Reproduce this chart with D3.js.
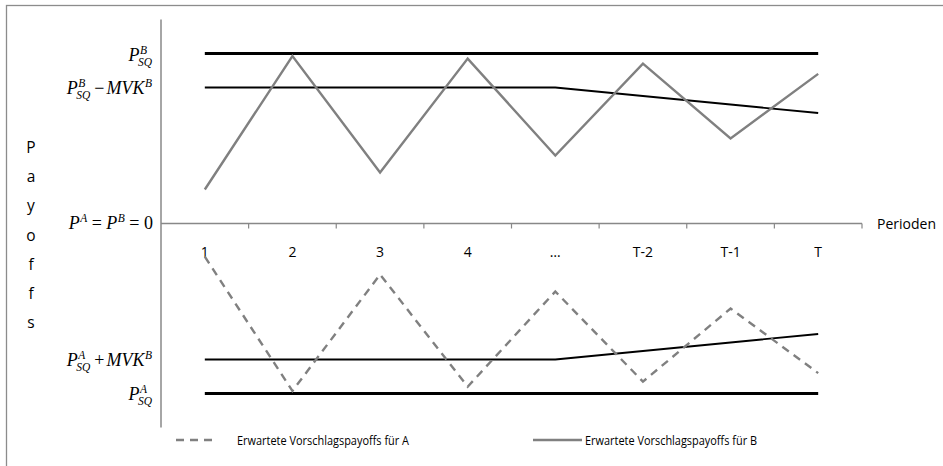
<!DOCTYPE html>
<html>
<head>
<meta charset="utf-8">
<script src="https://cdn.jsdelivr.net/npm/d3@7"></script>
<style>
  html, body { margin: 0; padding: 0; background: #fff; }
  svg { display: block; }
  text { white-space: pre; }
  .sans { font-family: "Open Sans", "Noto Sans", sans-serif; fill: #000; }
</style>
</head>
<body>
<svg id="chart" width="943" height="466"></svg>
<script>
// ---- data ----
const categories = ["1", "2", "3", "4", "…", "T-2", "T-1", "T"];
const statusQuoB  = [10, 10, 10, 10, 10, 10, 10, 10];
const thresholdB  = [8, 8, 8, 8, 8, 7.5, 7, 6.5];
const proposalB   = [2, 9.85, 3, 9.7, 4, 9.4, 5, 8.8];
const statusQuoA  = [-10, -10, -10, -10, -10, -10, -10, -10];
const thresholdA  = [-8, -8, -8, -8, -8, -7.5, -7, -6.5];
const proposalA   = [-1.95, -9.85, -3, -9.6, -4, -9.3, -5, -8.8];
const yAxisLetters = ["P", "a", "y", "o", "f", "f", "s"];
const legendLabels = ["Erwartete Vorschlagspayoffs für A", "Erwartete Vorschlagspayoffs für B"];
const xAxisTitle = "Perioden";

// ---- layout ----
const svg = d3.select("#chart");
const plotLeft = 161, plotRight = 862, plotTop = 19.5, plotBottom = 427.5;

svg.append("rect").attr("x", 6.5).attr("y", 5.5).attr("width", 950).attr("height", 470)
  .attr("fill", "none").attr("stroke", "#8c8c8c").attr("stroke-width", 1.3);

const x = d3.scaleBand().domain(categories).range([plotLeft, plotRight]).padding(0);
const y = d3.scaleLinear().domain([-12, 12]).range([plotBottom, plotTop]);
const cx = c => x(c) + x.bandwidth() / 2;

// y axis line
svg.append("line").attr("x1", plotLeft).attr("x2", plotLeft).attr("y1", plotTop).attr("y2", plotBottom)
  .attr("stroke", "#888").attr("stroke-width", 1.5);

// x axis at zero, ticks pointing down
const xAxisG = svg.append("g").attr("transform", `translate(0,${y(0)})`);
xAxisG.append("line").attr("x1", plotLeft).attr("x2", plotRight).attr("stroke", "#888").attr("stroke-width", 1.5);
xAxisG.selectAll("line.tick").data(categories).join("line").attr("class", "tick")
  .attr("x1", c => x(c) + x.bandwidth()).attr("x2", c => x(c) + x.bandwidth())
  .attr("y1", 0).attr("y2", 5).attr("stroke", "#888").attr("stroke-width", 1.2);

svg.selectAll("text.cat").data(categories).join("text").attr("class", "cat sans")
  .attr("x", c => cx(c)).attr("y", y(0) + 33).attr("text-anchor", "middle")
  .attr("font-size", 14).text(d => d);

svg.append("text").attr("class", "sans").attr("x", 877).attr("y", y(0) + 5)
  .attr("font-size", 14).text(xAxisTitle);

// ---- series ----
const line = d3.line().x((d, i) => cx(categories[i])).y(d => y(d));

svg.append("path").datum(statusQuoB).attr("d", line).attr("fill", "none").attr("stroke", "#000").attr("stroke-width", 3.2);
svg.append("path").datum(thresholdB).attr("d", line).attr("fill", "none").attr("stroke", "#000").attr("stroke-width", 1.8);
svg.append("path").datum(statusQuoA).attr("d", line).attr("fill", "none").attr("stroke", "#000").attr("stroke-width", 3.2);
svg.append("path").datum(thresholdA).attr("d", line).attr("fill", "none").attr("stroke", "#000").attr("stroke-width", 1.8);

svg.append("path").datum(proposalB).attr("d", line).attr("fill", "none")
  .attr("stroke", "#808080").attr("stroke-width", 2.4).attr("stroke-linejoin", "miter");
svg.append("path").datum(proposalA).attr("d", line).attr("fill", "none")
  .attr("stroke", "#808080").attr("stroke-width", 2.4).attr("stroke-dasharray", "8,6");

// ---- "Payoffs" vertical letters ----
svg.selectAll("text.ylet").data(yAxisLetters).join("text").attr("class", "ylet sans")
  .attr("x", 31).attr("y", (d, i) => 153 + i * 29.2).attr("text-anchor", "middle")
  .attr("font-size", 15.5).text(d => d);

// ---- math labels ----
const serif = '"Liberation Serif", "DejaVu Serif", serif';
function mathLabel(parts, rightX, baseY) {
  const g = svg.append("g");
  let cur = 0;
  parts.forEach(p => {
    if (p.type === "base") {
      const t = g.append("text").attr("x", cur).attr("y", 0)
        .attr("font-family", serif).attr("font-size", 18)
        .attr("font-style", p.italic ? "italic" : "normal").text(p.t);
      cur += t.node().getComputedTextLength();
    } else if (p.type === "script") {
      let w = 0;
      if (p.sup) {
        const s = g.append("text").attr("x", cur + 0.5).attr("y", -7)
          .attr("font-family", serif).attr("font-size", 11.5).attr("font-style", "italic").text(p.sup);
        w = Math.max(w, s.node().getComputedTextLength() + 0.5);
      }
      if (p.sub) {
        const s = g.append("text").attr("x", cur - 1.5).attr("y", 5)
          .attr("font-family", serif).attr("font-size", 11.5).attr("font-style", "italic").text(p.sub);
        w = Math.max(w, s.node().getComputedTextLength() - 1.5);
      }
      cur += w;
    } else if (p.type === "space") {
      cur += p.w;
    }
  });
  g.attr("transform", `translate(${rightX - cur},${baseY})`);
}

mathLabel([{type: "base", t: "P", italic: true}, {type: "script", sub: "SQ", sup: "B"}], 152, 61);
mathLabel([{type: "base", t: "P", italic: true}, {type: "script", sub: "SQ", sup: "B"},
  {type: "space", w: 4}, {type: "base", t: "−", italic: false}, {type: "space", w: 2},
  {type: "base", t: "MVK", italic: true}, {type: "script", sup: "B"}], 152, 94);
mathLabel([{type: "base", t: "P", italic: true}, {type: "script", sup: "A"},
  {type: "base", t: " = ", italic: false},
  {type: "base", t: "P", italic: true}, {type: "script", sup: "B"},
  {type: "base", t: " = 0", italic: false}], 153, 229);
mathLabel([{type: "base", t: "P", italic: true}, {type: "script", sub: "SQ", sup: "A"},
  {type: "space", w: 4}, {type: "base", t: "+", italic: false}, {type: "space", w: 2},
  {type: "base", t: "MVK", italic: true}, {type: "script", sup: "B"}], 152, 366);
mathLabel([{type: "base", t: "P", italic: true}, {type: "script", sub: "SQ", sup: "A"}], 152, 400);

// ---- legend ----
const legY = 440;
const leg = svg.append("g");
leg.append("line").attr("x1", 176).attr("x2", 214).attr("y1", legY).attr("y2", legY)
  .attr("stroke", "#808080").attr("stroke-width", 2.4).attr("stroke-dasharray", "8,6");
leg.append("text").attr("class", "sans").attr("x", 237).attr("y", legY + 4.5)
  .attr("font-size", 13).attr("textLength", 172).attr("lengthAdjust", "spacingAndGlyphs")
  .text(legendLabels[0]);
leg.append("line").attr("x1", 533).attr("x2", 582).attr("y1", legY).attr("y2", legY)
  .attr("stroke", "#808080").attr("stroke-width", 2.4);
leg.append("text").attr("class", "sans").attr("x", 585).attr("y", legY + 4.5)
  .attr("font-size", 13).attr("textLength", 172).attr("lengthAdjust", "spacingAndGlyphs")
  .text(legendLabels[1]);
</script>
</body>
</html>
